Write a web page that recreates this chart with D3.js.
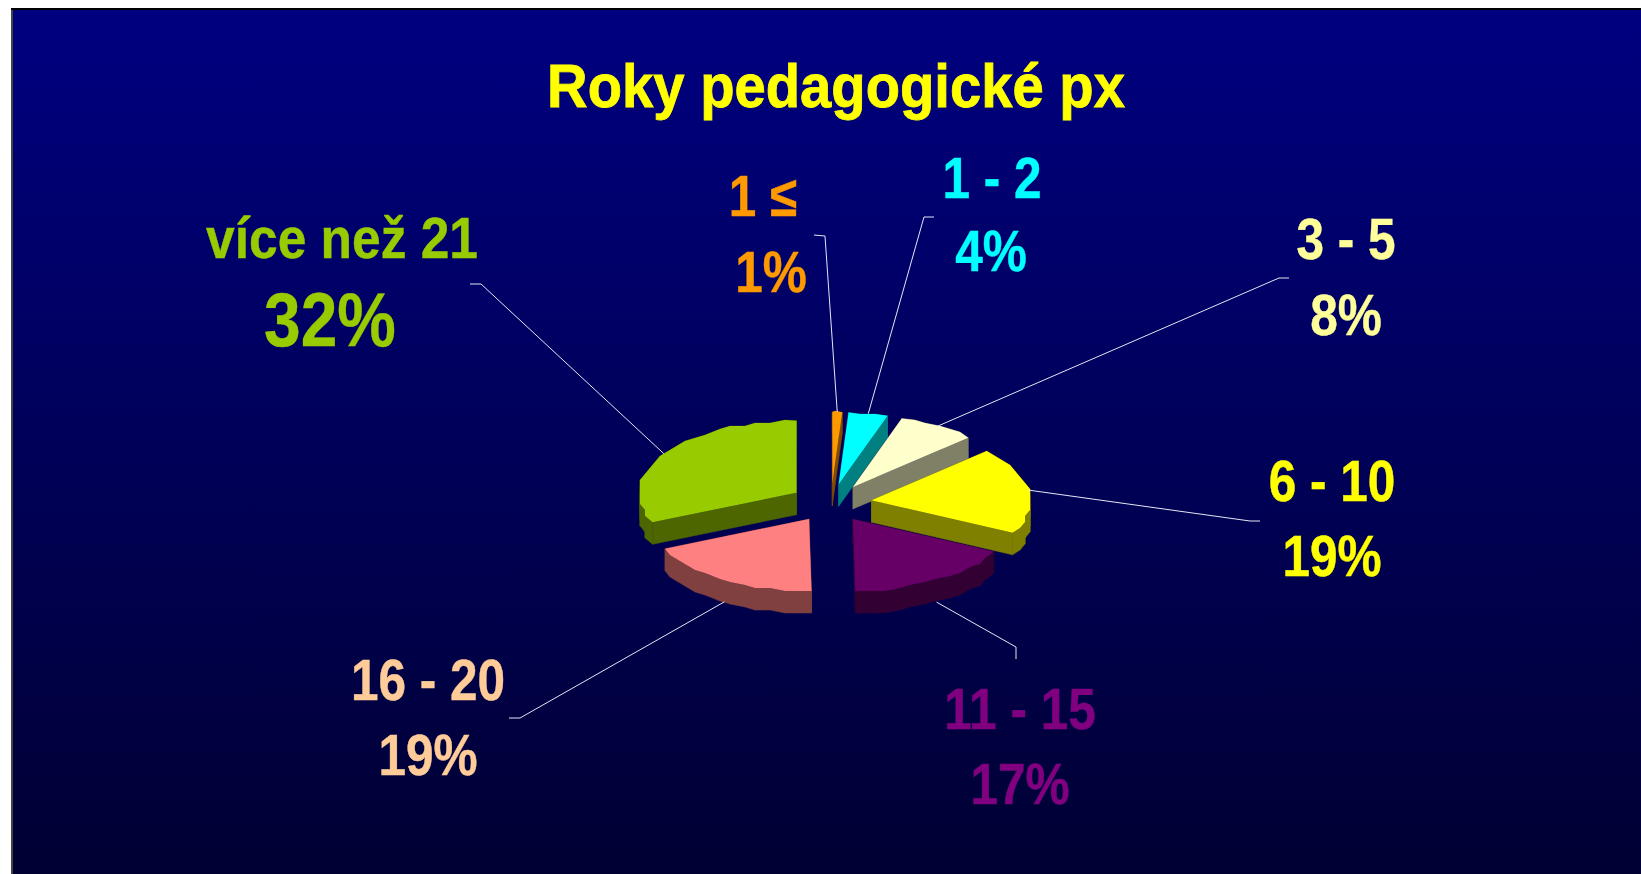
<!DOCTYPE html>
<html><head><meta charset="utf-8">
<script src="https://cdn.jsdelivr.net/npm/d3@7/dist/d3.min.js"></script>
<style>html,body{margin:0;padding:0;background:#fff;overflow:hidden}svg{display:block}text{font-family:"Liberation Sans",Arial,sans-serif;font-weight:700}</style>
</head><body><svg id="c" width="1641" height="874"></svg>
<script>
const titleText = "Roky pedagogické px";
const categories = ["1 ≤","1 - 2","3 - 5","6 - 10","11 - 15","16 - 20","více než 21"];
const values = [1,4,8,19.45,17.3,18.5,31.75];
const colors = ["#FF9900","#00FFFF","#FFFFCC","#FFFF00","#660066","#FF8080","#99CC00"];
const labelColors = ["#FF9900","#00FFFF","#FFFF99","#FFFF00","#800080","#FFCC99","#99CC00"];
// layout (name centre x and baseline, pct centre x and baseline, sizes, leader elbow points)
const labelLayout = [
 {x:763,y1:216,px:771,y2:292,fs:50,pfs:50,kx:0.99,elbow:[[814,235],[825,236]]},
 {x:992,y1:198,px:991,y2:271,fs:50,pfs:50,kx:0.99,elbow:[[934,217],[924,217]]},
 {x:1346,y1:259,px:1346,y2:335,fs:50,pfs:50,kx:0.99,elbow:[[1289,278],[1279,278]]},
 {x:1332,y1:501,px:1332,y2:576,fs:50,pfs:50,kx:0.99,elbow:[[1260,521],[1250,521]]},
 {x:1020,y1:729,px:1020,y2:804,fs:50,pfs:50,kx:0.99,elbow:[[1016,659],[1016,647]]},
 {x:428,y1:700,px:428,y2:775,fs:50,pfs:50,kx:0.99,elbow:[[509,718],[520,718]]},
 {x:342,y1:258,px:330,y2:346,fs:50,pfs:72,kx:1.03,elbow:[[470,284],[481,284]]}
];
const W=1641,H=874;
const svg=d3.select("#c");
const defs=svg.append("defs");
const g=defs.append("linearGradient").attr("id","bg").attr("x1",0).attr("x2",0).attr("y1",0).attr("y2",1);
g.append("stop").attr("offset",0).attr("stop-color","#000080");
g.append("stop").attr("offset",1).attr("stop-color","#000033");
svg.append("rect").attr("x",12).attr("y",8).attr("width",W-12).attr("height",H-8).attr("fill","url(#bg)");
svg.append("rect").attr("x",11).attr("y",8).attr("width",2).attr("height",H-8).attr("fill","#444");
svg.append("rect").attr("x",11).attr("y",8).attr("width",W-11).attr("height",2).attr("fill","#000");

const cx=831,cy=503,rx=158,ry=72,ex=41,ey=19,depth=22,snapX=5,snapY=3,stepDeg=5;
const pie=d3.pie().sort(null).value(d=>d)(values);
const sx=d3.scaleLinear().domain([-1,1]).range([-rx,rx]);
const sy=d3.scaleLinear().domain([-1,1]).range([ry,-ry]);
const line=d3.line();
const shade=c=>{const k=d3.rgb(c);return d3.rgb(k.r/2,k.g/2,k.b/2).formatHex();};
const slices=pie.map((p,i)=>{
  const mid=(p.startAngle+p.endAngle)/2;
  const ax=cx+ex*Math.sin(mid), ay=cy-ey*Math.cos(mid);
  const n=Math.max(2,Math.round((p.endAngle-p.startAngle)/(stepDeg*Math.PI/180)));
  const rim=d3.range(n+1).map(k=>{
    const a=p.startAngle+(p.endAngle-p.startAngle)*k/n;
    let x=ax+sx(Math.sin(a)), y=ay+sy(Math.cos(a));
    if(k>0&&k<n){x=Math.round(x/snapX)*snapX;y=Math.round(y/snapY)*snapY;}
    return [x,y];
  });
  return {p,i,mid,ax,ay,rim};
});
const down=([x,y])=>[x,y+depth];
slices.forEach(s=>{
  const c=colors[s.i], d=shade(c), G=svg.append("g");
  const apex=[s.ax,s.ay];
  const outline=[apex,...s.rim];
  const faces=[[apex,s.rim[0]],[apex,s.rim[s.rim.length-1]],...d3.pairs(s.rim)];
  faces.forEach(([a,b])=>{
    G.append("path").attr("d",line([a,b,down(b),down(a)])+"Z").attr("fill",d).attr("stroke",d).attr("stroke-width",0.5);
  });
  G.append("path").attr("d",line(outline)+"Z").attr("fill",c);
});
slices.forEach(s=>{
  const L=labelLayout[s.i];
  let a=s.ax+sx(Math.sin(s.mid)), b=s.ay+sy(Math.cos(s.mid));
  if(Math.cos(s.mid)<0) b+=depth;
  svg.append("path").attr("d",line([...L.elbow,[a,b]])).attr("fill","none").attr("stroke","#E6E6F5").attr("stroke-width",1);
});
function put(x,y,kx,ky,size,fill,str,sw){
  svg.append("text").attr("transform",`translate(${x},${y}) scale(${kx},${ky})`).attr("text-anchor","middle")
    .attr("fill",fill).attr("stroke",fill).attr("stroke-width",sw).attr("font-size",size).text(str);
}
put(836,107,0.953,1.04,59,"#FFFF00",titleText,0.8);
categories.forEach((c,i)=>{
  const L=labelLayout[i];
  put(L.x,L.y1,L.kx,1.14,L.fs,labelColors[i],c,0.4);
  put(L.px,L.y2,L.pfs>50?0.915:L.kx,L.pfs>50?1.05:1.14,L.pfs,labelColors[i],Math.round(values[i])+"%",0.4);
});
</script></body></html>
